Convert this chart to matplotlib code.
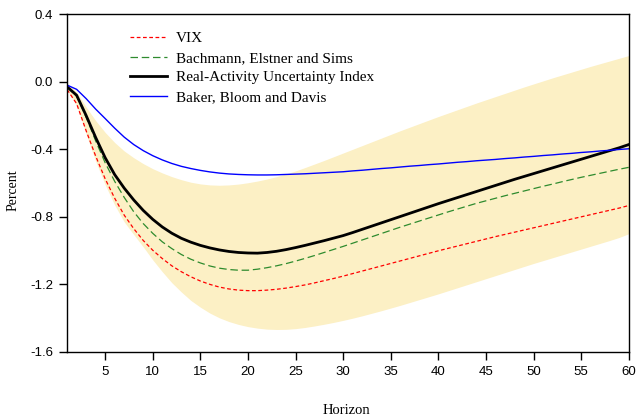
import matplotlib
matplotlib.use("Agg")
import matplotlib.pyplot as plt
import numpy as np

plt.rcParams["axes.unicode_minus"] = False

horizon = np.arange(1, 61)

# Real-Activity Uncertainty Index (black)
raui = [-0.030, -0.080, -0.200, -0.330, -0.450, -0.550, -0.630, -0.700, -0.762, -0.815,
        -0.860, -0.897, -0.927, -0.950, -0.969, -0.984, -0.996, -1.005, -1.011, -1.014,
        -1.015, -1.011, -1.004, -0.994, -0.982, -0.969, -0.955, -0.941, -0.926, -0.911,
        -0.893, -0.874, -0.855, -0.836, -0.817, -0.798, -0.779, -0.760, -0.741, -0.722,
        -0.704, -0.686, -0.668, -0.650, -0.632, -0.614, -0.596, -0.578, -0.561, -0.544,
        -0.527, -0.510, -0.493, -0.476, -0.459, -0.442, -0.425, -0.408, -0.391, -0.372]

# Bachmann, Elstner and Sims (green)
bes = [-0.030, -0.085, -0.210, -0.350, -0.480, -0.590, -0.685, -0.770, -0.840, -0.898,
       -0.948, -0.988, -1.023, -1.051, -1.073, -1.091, -1.104, -1.112, -1.116, -1.116,
       -1.110, -1.101, -1.090, -1.077, -1.062, -1.046, -1.029, -1.011, -0.993, -0.975,
       -0.956, -0.937, -0.918, -0.899, -0.880, -0.861, -0.843, -0.825, -0.807, -0.789,
       -0.771, -0.754, -0.737, -0.720, -0.705, -0.690, -0.675, -0.661, -0.647, -0.633,
       -0.619, -0.606, -0.592, -0.579, -0.566, -0.554, -0.542, -0.530, -0.518, -0.507]

# VIX (red)
vix = [-0.046, -0.130, -0.290, -0.440, -0.575, -0.690, -0.790, -0.870, -0.940, -0.998,
       -1.047, -1.090, -1.125, -1.155, -1.180, -1.200, -1.216, -1.227, -1.234, -1.237,
       -1.237, -1.234, -1.229, -1.222, -1.213, -1.203, -1.191, -1.178, -1.165, -1.151,
       -1.136, -1.121, -1.106, -1.091, -1.076, -1.061, -1.046, -1.031, -1.016, -1.001,
       -0.987, -0.973, -0.959, -0.945, -0.931, -0.917, -0.904, -0.891, -0.878, -0.865,
       -0.852, -0.839, -0.826, -0.813, -0.800, -0.787, -0.774, -0.761, -0.748, -0.733]

# Baker, Bloom and Davis (blue)
bbd = [-0.020, -0.045, -0.100, -0.162, -0.218, -0.275, -0.328, -0.372, -0.408, -0.438,
       -0.463, -0.484, -0.501, -0.514, -0.525, -0.534, -0.541, -0.546, -0.549, -0.551,
       -0.552, -0.552, -0.551, -0.549, -0.547, -0.545, -0.542, -0.539, -0.536, -0.533,
       -0.528, -0.524, -0.519, -0.514, -0.510, -0.505, -0.500, -0.496, -0.491, -0.487,
       -0.482, -0.477, -0.473, -0.468, -0.464, -0.460, -0.455, -0.451, -0.446, -0.442,
       -0.437, -0.433, -0.428, -0.424, -0.419, -0.415, -0.410, -0.406, -0.401, -0.397]

# confidence band for the real-activity index
band_upper = [-0.010, -0.060, -0.150, -0.230, -0.300, -0.360, -0.410, -0.450, -0.485, -0.515,
              -0.540, -0.562, -0.580, -0.595, -0.605, -0.611, -0.613, -0.611, -0.606, -0.598,
              -0.588, -0.576, -0.562, -0.546, -0.528, -0.508, -0.487, -0.466, -0.444, -0.422,
              -0.400, -0.378, -0.356, -0.334, -0.312, -0.290, -0.269, -0.248, -0.227, -0.206,
              -0.186, -0.166, -0.146, -0.126, -0.107, -0.088, -0.069, -0.050, -0.031, -0.013,
              0.005, 0.023, 0.040, 0.057, 0.074, 0.091, 0.107, 0.123, 0.139, 0.155]
band_lower = [-0.050, -0.140, -0.310, -0.470, -0.610, -0.730, -0.830, -0.905, -0.978, -1.055,
              -1.125, -1.190, -1.245, -1.295, -1.335, -1.370, -1.398, -1.420, -1.437, -1.450,
              -1.459, -1.465, -1.467, -1.466, -1.462, -1.455, -1.446, -1.436, -1.425, -1.413,
              -1.400, -1.386, -1.371, -1.356, -1.340, -1.324, -1.307, -1.290, -1.273, -1.256,
              -1.238, -1.220, -1.202, -1.184, -1.166, -1.148, -1.130, -1.112, -1.094, -1.076,
              -1.059, -1.042, -1.025, -1.008, -0.991, -0.974, -0.957, -0.940, -0.922, -0.900]

fig = plt.figure(figsize=(6.39, 4.17), dpi=100)
ax = fig.add_axes([0.105, 0.156, 0.879, 0.81])

ax.fill_between(horizon, band_lower, band_upper, color="#fcf0c5", lw=0)
ax.plot(horizon, vix, color="red", lw=0.9, ls=(0, (3, 2)), label="VIX")
ax.plot(horizon, bes, color="#2e8b2e", lw=0.9, ls=(0, (6, 3)), label="Bachmann, Elstner and Sims")
ax.plot(horizon, raui, color="black", lw=2.0, label="Real-Activity Uncertainty Index")
ax.plot(horizon, bbd, color="blue", lw=1.0, label="Baker, Bloom and Davis")

ax.set_xlim(1, 60)
ax.set_ylim(-1.6, 0.4)
ax.set_xticks(np.arange(5, 61, 5))
ax.set_yticks([-1.6, -1.2, -0.8, -0.4, 0.0, 0.4])
ax.set_yticklabels(["-1.6", "-1.2", "-0.8", "-0.4", "0.0", "0.4"])
ax.tick_params(direction="out", length=6, width=1, labelsize=9.5, pad=4,
               top=False, right=False)
for lab in ax.get_xticklabels() + ax.get_yticklabels():
    lab.set_family("Liberation Sans")
for sp in ax.spines.values():
    sp.set_linewidth(1.0)

ax.set_ylabel("Percent", family="Liberation Serif", fontsize=10, va="center")
ax.yaxis.set_label_coords(-0.097, 0.48)
ax.set_xlabel("Horizon", family="Liberation Serif", fontsize=10.5, va="center")
ax.xaxis.set_label_coords(0.497, -0.172)

leg = ax.legend(loc="upper left", bbox_to_anchor=(0.112, 0.948), frameon=False,
                prop={"family": "Liberation Serif", "size": 11}, handlelength=2.4,
                handletextpad=0.6, labelspacing=0.38, borderpad=0, borderaxespad=0)

fig.savefig("out.png", dpi=100)
